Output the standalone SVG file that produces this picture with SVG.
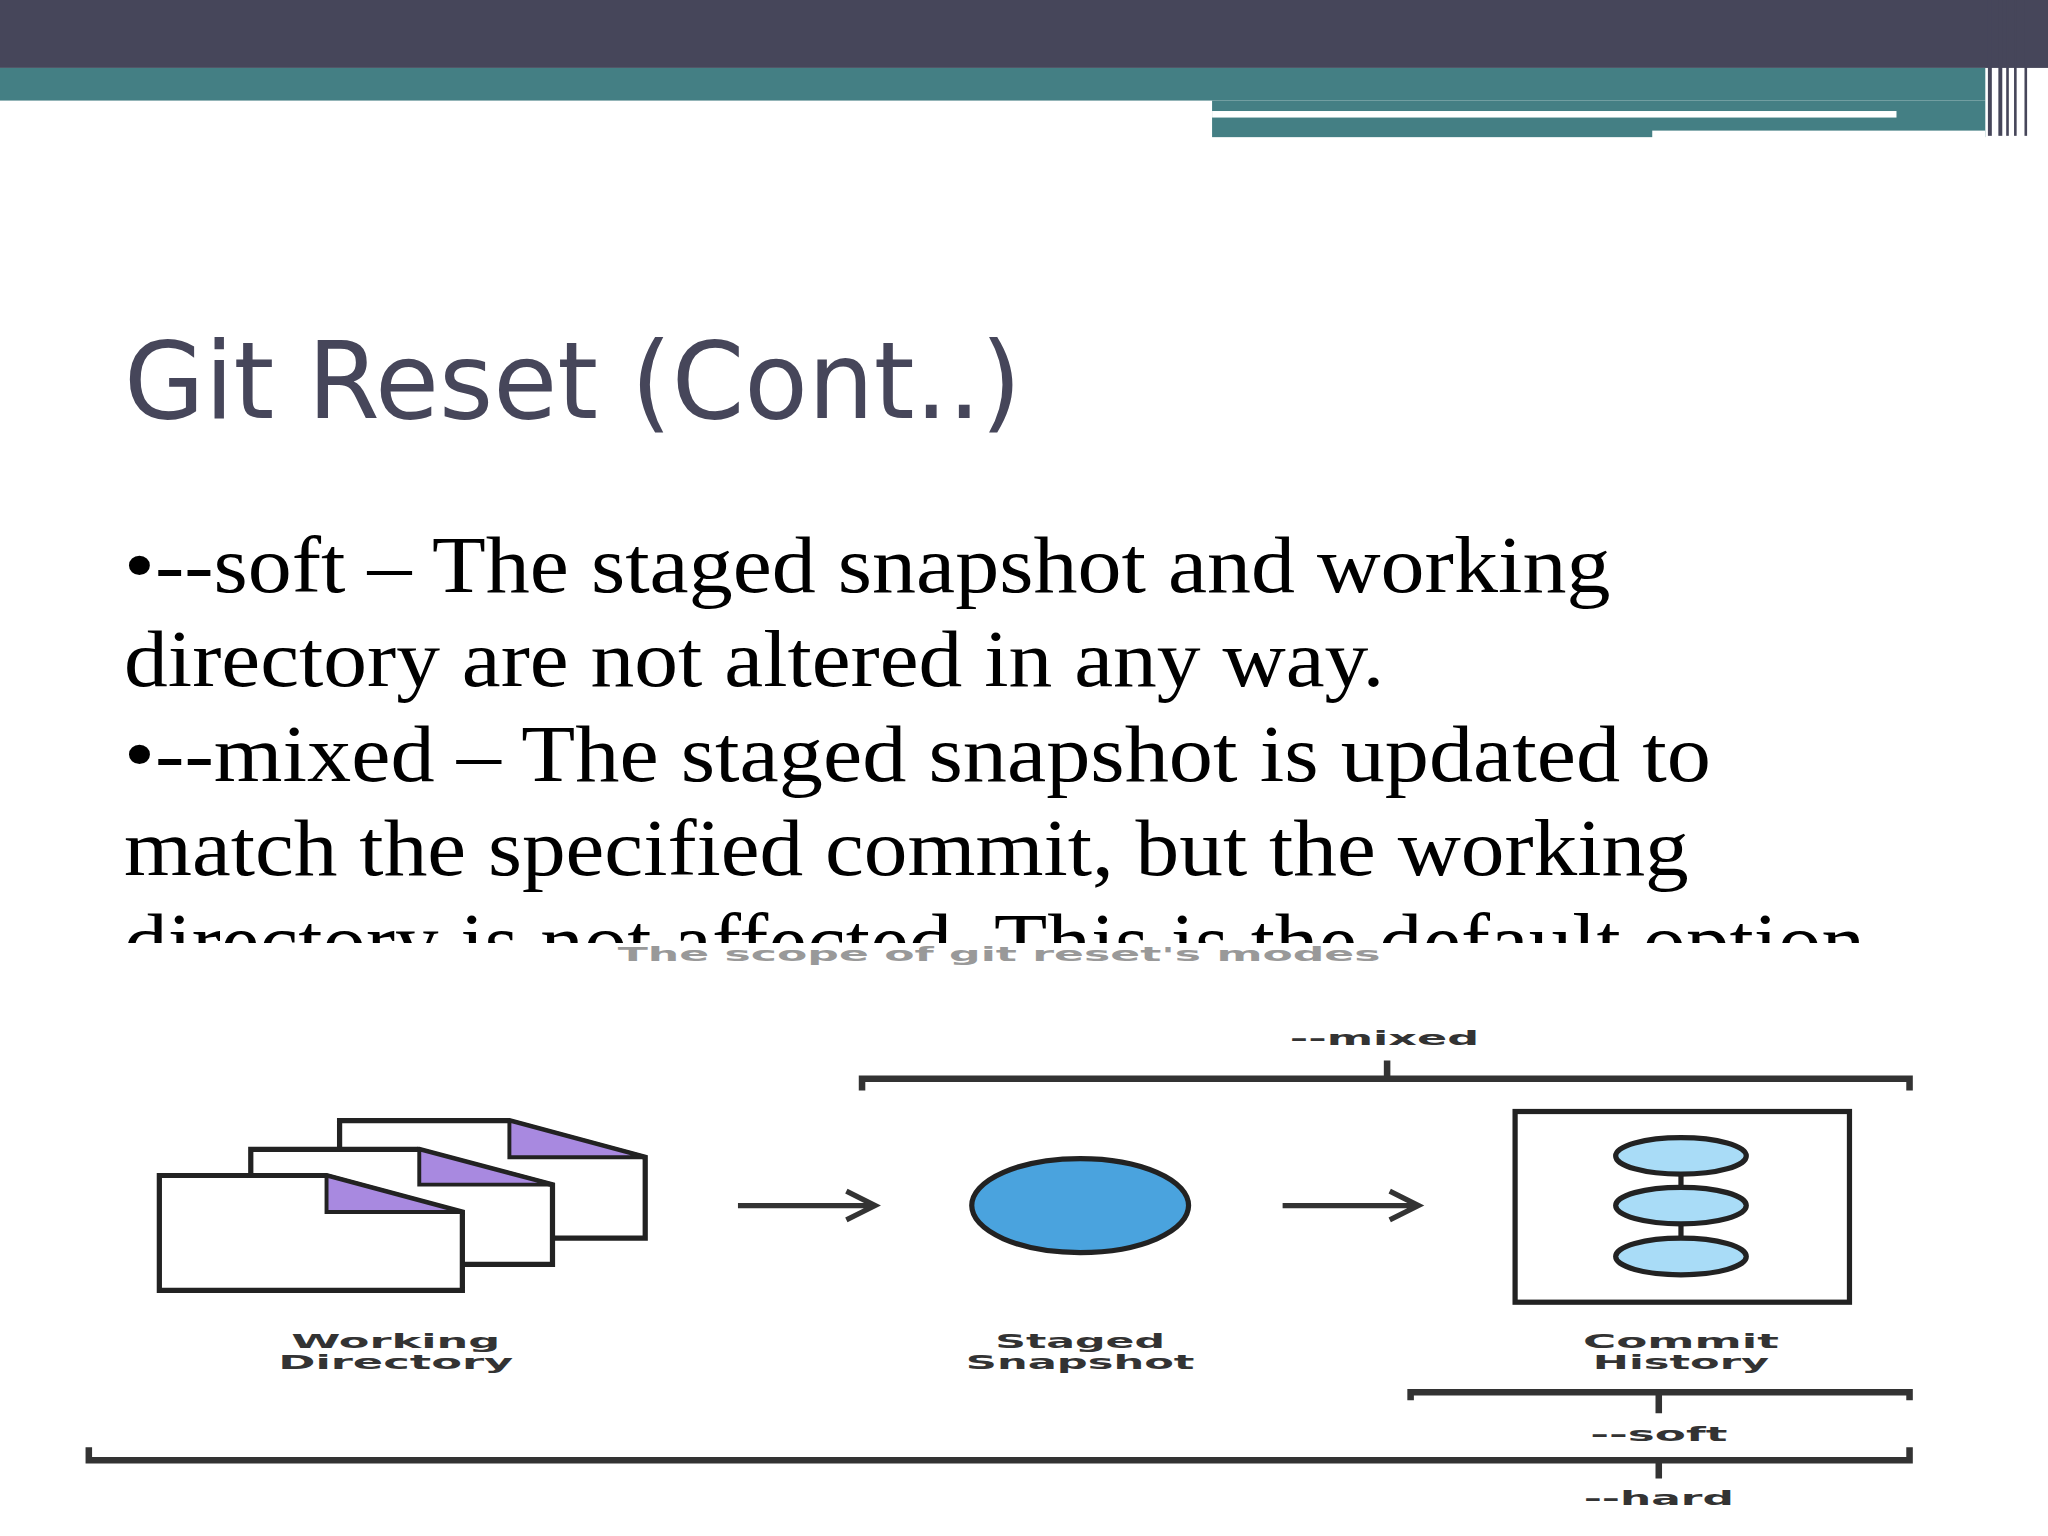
<svg xmlns="http://www.w3.org/2000/svg" width="2048" height="1536" viewBox="0 0 2048 1536">
<defs>
<style>
.body{font-family:"Liberation Serif",serif;font-size:62px;fill:#000}
.lbl{font-family:"DejaVu Sans",sans-serif;font-weight:bold;font-size:15px;fill:#333;text-anchor:middle}
.br{stroke:#333;stroke-width:5;fill:none}
.page{fill:#fff;stroke:#222;stroke-width:4}
.fold{fill:#a889e0;stroke:#222;stroke-width:3}
.ar{stroke:#333;stroke-width:4;fill:none}
</style>
<clipPath id="c"><rect x="0" y="0" width="1568" height="722"/></clipPath>
</defs>
<rect width="2048" height="1536" fill="#fff"/>
<g transform="scale(1.30612)">
<g id="header">
<rect x="0" y="0" width="1568" height="52" fill="#46465a"/>
<rect x="0" y="52" width="1520" height="25" fill="#447f84"/>
<rect x="928" y="77" width="592" height="28" fill="#447f84"/>
<rect x="928" y="85" width="524" height="5" fill="#fff"/>
<rect x="1265" y="100" width="255" height="6" fill="#fff"/>
<rect x="1522" y="0" width="3" height="104" fill="#46465a"/>
<rect x="1530" y="0" width="3" height="104" fill="#46465a"/>
<rect x="1536" y="0" width="2" height="104" fill="#46465a"/>
<rect x="1542" y="0" width="2" height="104" fill="#46465a"/>
<rect x="1550" y="0" width="2" height="104" fill="#46465a"/>
</g>
<g id="title"><text x="95" y="320" font-family="DejaVu Sans,sans-serif" font-size="82" fill="#46465a" textLength="687" lengthAdjust="spacingAndGlyphs">Git Reset (Cont..)</text></g>
<g id="bodytext" clip-path="url(#c)">
<text class="body" x="95" y="453" textLength="1138" lengthAdjust="spacingAndGlyphs">•--soft – The staged snapshot and working</text>
<text class="body" x="95" y="525" textLength="965" lengthAdjust="spacingAndGlyphs">directory are not altered in any way.</text>
<text class="body" x="95" y="598" textLength="1215" lengthAdjust="spacingAndGlyphs">•--mixed – The staged snapshot is updated to</text>
<text class="body" x="95" y="670" textLength="1198" lengthAdjust="spacingAndGlyphs">match the specified commit, but the working</text>
<text class="body" x="95" y="742" textLength="1333" lengthAdjust="spacingAndGlyphs">directory is not affected. This is the default option</text>
</g>
<text x="765" y="736" font-family="DejaVu Sans,sans-serif" font-weight="bold" font-size="15" fill="#999" text-anchor="middle" textLength="584" lengthAdjust="spacingAndGlyphs">The scope of git reset's modes</text>
<g id="connectors">
<path class="br" d="M660,835 V826 H1462 V835 M1062,826 V812"/>
<path class="br" d="M1080,1072 V1066 H1462 V1072 M1270,1066 V1082"/>
<path class="br" d="M68,1108 V1118 H1462 V1108 M1270,1118 V1132"/>
<path class="ar" d="M565,923 H670 M648,912 L670,923 L648,934"/>
<path class="ar" d="M982,923 H1086 M1064,912 L1086,923 L1064,934"/>
</g>
<g id="working-directory">
<path class="page" d="M260,858 H390 L494,886 V948 H260 Z"/>
<path class="fold" d="M390,858 L494,886 H390 Z"/>
<path class="page" d="M192,880 H321 L423,907 V968 H192 Z"/>
<path class="fold" d="M321,880 L423,907 H321 Z"/>
<path class="page" d="M122,900 H250 L354,928 V988 H122 Z"/>
<path class="fold" d="M250,900 L354,928 H250 Z"/>
<text class="lbl" x="303" y="1032" textLength="160" lengthAdjust="spacingAndGlyphs">Working</text>
<text class="lbl" x="303" y="1048" textLength="180" lengthAdjust="spacingAndGlyphs">Directory</text>
</g>
<g id="staged-snapshot">
<ellipse cx="827" cy="923" rx="83" ry="36" fill="#4aa3de" stroke="#222" stroke-width="4"/>
<text class="lbl" x="827" y="1032" textLength="130" lengthAdjust="spacingAndGlyphs">Staged</text>
<text class="lbl" x="827" y="1048" textLength="175" lengthAdjust="spacingAndGlyphs">Snapshot</text>
</g>
<g id="commit-history">
<rect x="1160" y="851" width="256" height="146" fill="#fff" stroke="#222" stroke-width="4"/>
<line x1="1287" y1="885" x2="1287" y2="962" stroke="#222" stroke-width="4"/>
<ellipse cx="1287" cy="885" rx="50" ry="14" fill="#a9dcf7" stroke="#222" stroke-width="4"/>
<ellipse cx="1287" cy="923" rx="50" ry="14" fill="#a9dcf7" stroke="#222" stroke-width="4"/>
<ellipse cx="1287" cy="962" rx="50" ry="14" fill="#a9dcf7" stroke="#222" stroke-width="4"/>
<text class="lbl" x="1287" y="1032" textLength="150" lengthAdjust="spacingAndGlyphs">Commit</text>
<text class="lbl" x="1287" y="1048" textLength="135" lengthAdjust="spacingAndGlyphs">History</text>
</g>
<text class="lbl" x="1060" y="800" textLength="145" lengthAdjust="spacingAndGlyphs">--mixed</text>
<text class="lbl" x="1270" y="1103" textLength="105" lengthAdjust="spacingAndGlyphs">--soft</text>
<text class="lbl" x="1270" y="1152" textLength="115" lengthAdjust="spacingAndGlyphs">--hard</text>
</g>
</svg>
